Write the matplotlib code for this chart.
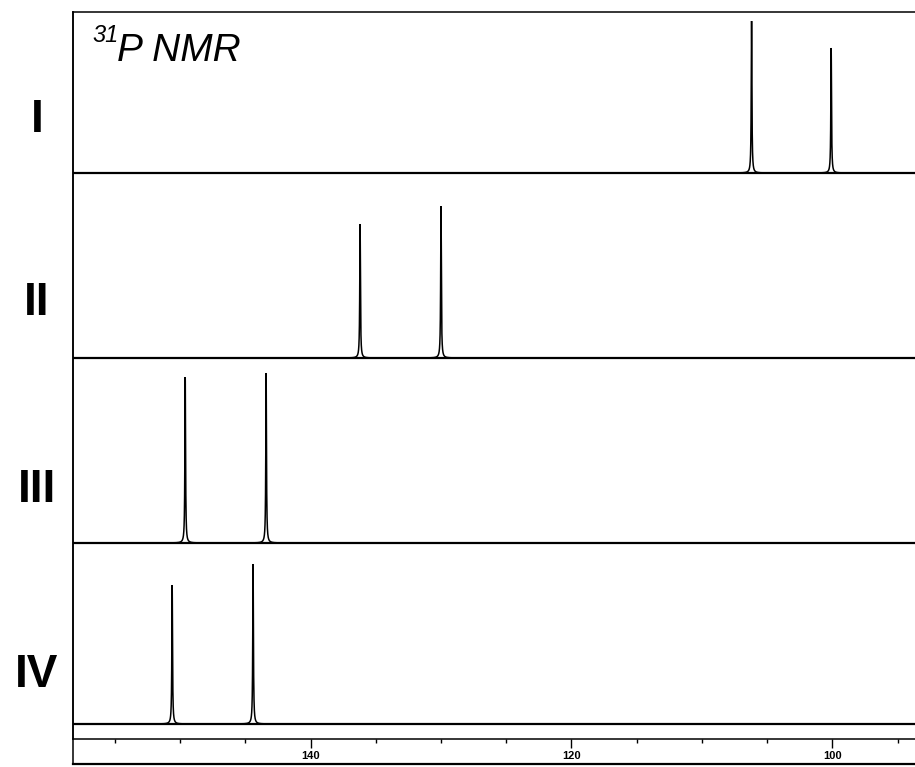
import numpy as np
import matplotlib
matplotlib.use("Agg")
import matplotlib.pyplot as plt
from matplotlib.lines import Line2D

plt.rcParams['font.family'] = ['Liberation Sans', 'DejaVu Sans']

# ---- data ----
spectra = ["I", "II", "III", "IV"]
peak_ppm = {
    "I":   [106.2, 100.1],
    "II":  [136.2, 130.0],
    "III": [149.6, 143.4],
    "IV":  [150.6, 144.4],
}
peak_height = {
    "I":   [152, 125],
    "II":  [134, 152],
    "III": [166, 170],
    "IV":  [139, 160],
}
x_major = [140, 120, 100]
title_sup = "31"
title_main = "P NMR"

# ---- layout ----
W, H = 915, 767
fig = plt.figure(figsize=(W / 100, H / 100), dpi=100)
left_px, right_px, top_px, axbot_px, outer_bot_px = 73, 916, 12, 739, 764
ax = fig.add_axes([left_px / W, 1 - axbot_px / H,
                   (right_px - left_px) / W, (axbot_px - top_px) / H])
ax.set_xlim(158.2, 93.6)
ax.set_ylim(0, axbot_px - top_px)

offsets = {"I": 566, "II": 381, "III": 196, "IV": 15}
hwhm = 0.03
x = np.linspace(158.2, 93.6, 60000)
for name in spectra:
    y = np.zeros_like(x)
    for p, h in zip(peak_ppm[name], peak_height[name]):
        y += h * hwhm**2 / ((x - p)**2 + hwhm**2)
    base = offsets[name]
    ax.plot(x, y + base, color='black', lw=1.1, solid_joinstyle='miter')
    ax.axhline(base, color='black', lw=1.6)

# axes styling
for s in ['left', 'top', 'bottom']:
    ax.spines[s].set_linewidth(1.1)
ax.spines['right'].set_visible(False)
ax.set_yticks([])
ax.set_xticks(x_major)
ax.set_xticks(np.arange(95, 158, 5), minor=True)
ax.tick_params(axis='x', which='major', direction='out', length=6.5, width=1.0, pad=2,
               labelsize=8)
ax.tick_params(axis='x', which='minor', direction='out', length=3, width=1.0)
for lab in ax.get_xticklabels():
    lab.set_fontweight('bold')

# outer frame (extends below tick labels)
yb = 1 - outer_bot_px / H
fig.add_artist(Line2D([left_px / W, left_px / W], [yb, 1 - top_px / H],
                      transform=fig.transFigure, color='black', lw=1.1))
fig.add_artist(Line2D([left_px / W, 1.0], [yb, yb],
                      transform=fig.transFigure, color='black', lw=1.6))

# spectrum labels
label_y = {"I": 120, "II": 303, "III": 490, "IV": 675}
for name in spectra:
    fig.text(37 / W, 1 - label_y[name] / H, name, ha='center', va='center',
             fontsize=33, fontweight='bold')

# title
fig.text(92 / W, 1 - 42 / H, title_sup, fontsize=17, style='italic', va='baseline')
fig.text(117 / W, 1 - 61 / H, title_main, fontsize=28, style='italic', va='baseline')

fig.savefig("out.png", dpi=100)
